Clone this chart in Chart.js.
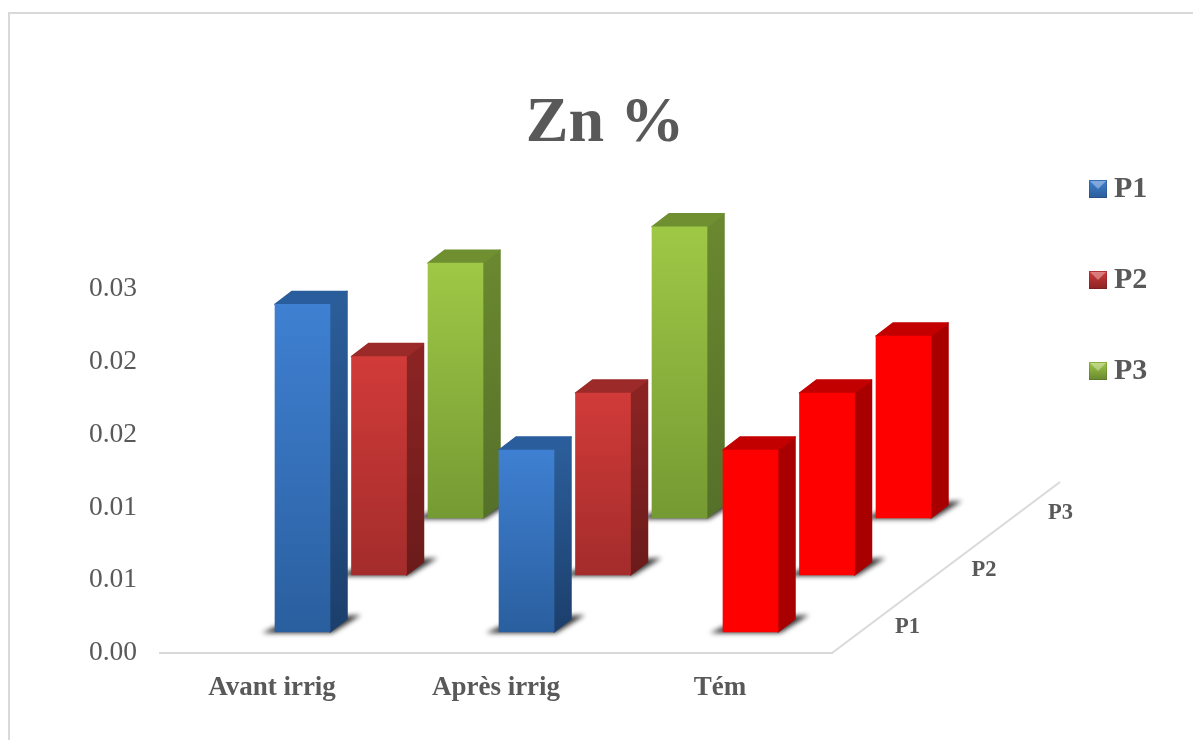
<!DOCTYPE html>
<html lang="en">
<head>
    <meta charset="UTF-8">
    <title>Zn %</title>
    <script src="https://cdn.jsdelivr.net/npm/chart.js@4/dist/chart.umd.min.js"></script>
    <style>
        html, body { margin: 0; padding: 0; background: #fff; overflow: hidden; }
        canvas { display: block; }
    </style>
</head>
<body>
<canvas id="znChart" width="1193" height="740"></canvas>

<script>
const categories = ['Avant irrig', 'Après irrig', 'Tém'];
const seriesNames = ['P1', 'P2', 'P3'];
const p1Values = [0.0225, 0.0125, 0.0125];
const p2Values = [0.015, 0.0125, 0.0125];
const p3Values = [0.0175, 0.02, 0.0125];
const tickLabels = ['0.00', '0.01', '0.01', '0.02', '0.02', '0.03'];

const FONT = '"Liberation Serif", "Times New Roman", serif';
const TEXT = '#595959';
const DEPTH_X = 17, DEPTH_Y = 13; // size of the bar's side and top faces

// colours per series: front top/bottom, side top/bottom, top face
const palettes = [
    { front: ['#3f80d2', '#2a5f9f'], side: ['#2b5d99', '#1c3f6c'], top: '#2a5d9c' },
    { front: ['#d13b39', '#a32c2b'], side: ['#8a2423', '#6b1b1b'], top: '#9c2a28' },
    { front: ['#9fc846', '#759a33'], side: ['#69882f', '#55702a'], top: '#6f8f30' }
];
const flatRed = { front: ['#ff0000', '#ff0000'], side: ['#a80000', '#a80000'], top: '#c20000' };

function paletteFor(datasetIndex, pointIndex) {
    return pointIndex === 2 ? flatRed : palettes[datasetIndex];
}

// how far each row sits from the front of the floor
function rowOffset(i) {
    return { x: 30.5 + 76.5 * i, y: -21 - 57 * i };
}

function frontFill(c) {
    const yScale = c.chart.scales.y;
    const p = paletteFor(c.datasetIndex, c.dataIndex);
    if (!yScale || c.raw === undefined) return p.front[0];
    const g = c.chart.ctx.createLinearGradient(0, yScale.getPixelForValue(c.raw), 0, yScale.getPixelForValue(0));
    g.addColorStop(0, p.front[0]);
    g.addColorStop(1, p.front[1]);
    return g;
}

function legendCube(p) {
    const cube = document.createElement('canvas');
    cube.width = 18;
    cube.height = 18;
    const g = cube.getContext('2d');
    const fill = g.createLinearGradient(0, 0, 0, 18);
    fill.addColorStop(0, p.front[0]);
    fill.addColorStop(1, p.side[0]);
    g.fillStyle = fill;
    g.fillRect(0, 0, 18, 18);
    g.fillStyle = 'rgba(255,255,255,0.35)';
    g.beginPath();
    g.moveTo(1, 1);
    g.lineTo(17, 1);
    g.lineTo(9, 9);
    g.closePath();
    g.fill();
    g.strokeStyle = 'rgba(0,0,0,0.12)';
    g.strokeRect(0.5, 0.5, 17, 17);
    return cube;
}

function fillFace(ctx, points, fill) {
    ctx.fillStyle = fill;
    ctx.strokeStyle = fill;
    ctx.lineWidth = 1.5;
    ctx.lineJoin = 'round';
    ctx.beginPath();
    points.forEach(([x, y], i) => (i ? ctx.lineTo(x, y) : ctx.moveTo(x, y)));
    ctx.closePath();
    ctx.fill();
    ctx.stroke();
}

const bars3d = {
    id: 'bars3d',
    afterLayout(chart) {
        // title and legend sit outside the plot area
        chart.titleBlock.left = 17;
        chart.titleBlock.right = 1193;
        chart.legend.left = 1036;
        chart.legend.right = 1193;
        chart.legend.top = 113;
        chart.legend.bottom = 740;
    },
    beforeDraw(chart) {
        // the picture's frame only shows on the left and at the top
        const ctx = chart.ctx;
        ctx.save();
        ctx.strokeStyle = '#d9d9d9';
        ctx.lineWidth = 2;
        ctx.beginPath();
        ctx.moveTo(9, 740);
        ctx.lineTo(9, 13);
        ctx.lineTo(1193, 13);
        ctx.stroke();
        ctx.restore();
    },
    beforeDatasetsDraw(chart) {
        const ctx = chart.ctx;
        const { right, bottom } = chart.chartArea;
        ctx.save();
        ctx.strokeStyle = '#d9d9d9';
        ctx.lineWidth = 2;
        ctx.beginPath();
        ctx.moveTo(right, bottom);
        ctx.lineTo(1060, 482);
        ctx.stroke();
        ctx.fillStyle = TEXT;
        ctx.font = 'bold 22.5px ' + FONT;
        ctx.textAlign = 'center';
        ctx.textBaseline = 'middle';
        seriesNames.forEach((name, i) => {
            ctx.fillText(name, 907.5 + 76.5 * i, 627 - 57 * i);
        });
        ctx.restore();
    },
    beforeDatasetDraw(chart, args) {
        const ctx = chart.ctx;
        const off = rowOffset(args.index);
        ctx.save();
        ctx.translate(off.x, off.y);
        args.meta.data.forEach((bar, j) => {
            const p = paletteFor(args.index, j);
            const left = bar.x - bar.width / 2;
            const rgt = bar.x + bar.width / 2;

            // soft shadow on the floor
            ctx.save();
            ctx.filter = 'blur(2.5px)';
            ctx.fillStyle = 'rgba(0,0,0,0.8)';
            ctx.beginPath();
            ctx.moveTo(left - 13, bar.base + 1);
            ctx.lineTo(left + 2, bar.base - 6);
            ctx.lineTo(rgt + 14, bar.base - 16);
            ctx.lineTo(rgt + 31, bar.base - 17);
            ctx.lineTo(rgt + 2, bar.base + 1);
            ctx.closePath();
            ctx.fill();
            ctx.restore();

            const sideFill = ctx.createLinearGradient(0, bar.y, 0, bar.base);
            sideFill.addColorStop(0, p.side[0]);
            sideFill.addColorStop(1, p.side[1]);
            fillFace(ctx, [
                [rgt, bar.y],
                [rgt + DEPTH_X, bar.y - DEPTH_Y],
                [rgt + DEPTH_X, bar.base - DEPTH_Y],
                [rgt, bar.base]
            ], sideFill);
            fillFace(ctx, [
                [left, bar.y],
                [left + DEPTH_X, bar.y - DEPTH_Y],
                [rgt + DEPTH_X, bar.y - DEPTH_Y],
                [rgt, bar.y]
            ], p.top);
        });
    },
    afterDatasetDraw(chart) {
        chart.ctx.restore();
    }
};

new Chart(document.getElementById('znChart'), {
    type: 'bar',
    data: {
        labels: categories,
        datasets: [p1Values, p2Values, p3Values].map((values, i) => ({
            label: seriesNames[i],
            data: values,
            backgroundColor: frontFill,
            barThickness: 55,
            grouped: false,
            clip: false
        }))
    },
    options: {
        responsive: false,
        animation: false,
        layout: { padding: { right: 361 } },
        plugins: {
            title: {
                display: true,
                text: 'Zn %',
                color: TEXT,
                font: { family: FONT, size: 64, weight: 'bold' },
                padding: { top: 86, bottom: 126.2 }
            },
            legend: {
                position: 'chartArea',
                align: 'start',
                labels: {
                    usePointStyle: true,
                    pointStyleWidth: 2,
                    padding: 61,
                    color: TEXT,
                    font: { family: FONT, size: 30, weight: 'bold' },
                    generateLabels: () => seriesNames.map((name, i) => ({
                        text: name,
                        fontColor: TEXT,
                        datasetIndex: i,
                        pointStyle: legendCube(palettes[i])
                    }))
                }
            },
            tooltip: { enabled: false }
        },
        scales: {
            x: {
                grid: { display: false },
                border: { color: '#d9d9d9', width: 2 },
                ticks: {
                    color: TEXT,
                    padding: 11,
                    maxRotation: 0,
                    font: { family: FONT, size: 27, weight: 'bold' }
                },
                afterFit(scale) { scale.height = 87; }
            },
            y: {
                min: 0,
                max: 0.025,
                grid: { display: false },
                border: { display: false },
                ticks: {
                    stepSize: 0.005,
                    color: TEXT,
                    padding: 15,
                    font: { family: FONT, size: 27.5 },
                    callback: (value, index) => tickLabels[index]
                },
                afterFit(scale) { scale.width = 160; }
            }
        }
    },
    plugins: [bars3d]
});
</script>
</body>
</html>
